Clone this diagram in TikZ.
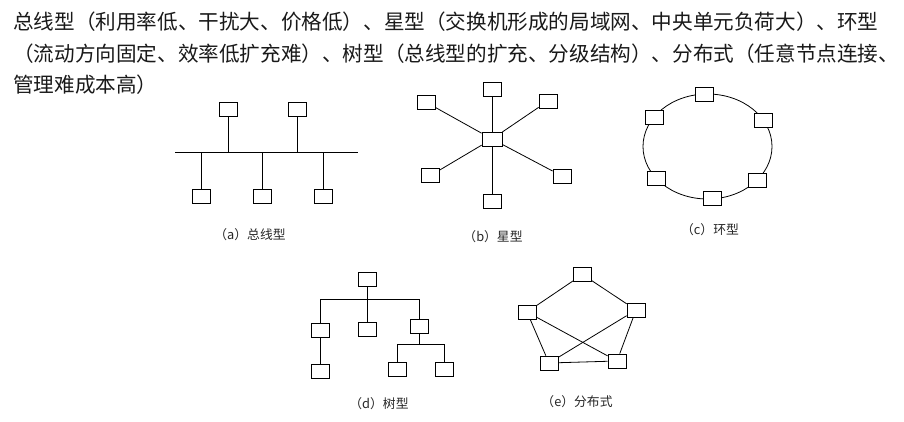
\documentclass[tikz,border=0pt]{standalone}
\usepackage{fontspec}
\setmainfont{Noto Sans CJK SC}
\newcommand{\bodyfont}{\fontsize{20.6}{31.5}\selectfont}
\newcommand{\capfont}{\fontsize{12.8}{15}\selectfont}
\tikzset{
  pc/.style={draw,fill=white,minimum width=18pt,minimum height=14pt,inner sep=0pt,line width=0.8pt},
  link/.style={line width=0.8pt},
  caption/.style={font=\capfont,black!85},
  txt/.style={font=\bodyfont,anchor=base west,inner sep=0pt,black!90}
}
\begin{document}
\begin{tikzpicture}[x=1pt,y=-1pt]
  \useasboundingbox (0,0) rectangle (904,422);
  \node[txt] (line1) at (13,30) {总线型（利用率低、干扰大、价格低）、星型（交换机形成的局域网、中央单元负荷大）、环型};
  \node[txt] (line2) at (13,61.5) {（流动方向固定、效率低扩充难）、树型（总线型的扩充、分级结构）、分布式（任意节点连接、};
  \node[txt] (line3) at (13,93) {管理难成本高）};
  % (a) bus
  \coordinate (busL) at (175,152); \coordinate (busR) at (358,152);
  \draw[link] (busL) -- (busR);
  \foreach \n/\x/\y in {a1/228/109,a2/297/109,a3/201/196,a4/262.5/196,a5/323/196}{
    \node[pc] (\n) at (\x,\y) {};
    \draw[link] (\n) -- (\n |- busL);
  }
  \node[caption] (capa) at (250,235) {（a）总线型};
  % (b) star
  \node[pc,minimum width=20pt] (b0) at (492,139) {};
  \foreach \n/\x/\y in {b1/492/89.5,b2/548/101,b3/562/176,b4/492/201,b5/430.5/175.5,b6/426.5/102.5}{
    \node[pc] (\n) at (\x,\y) {};
    \draw[link] (b0) -- (\n);
  }
  \node[caption] (capb) at (493,237) {（b）星型};
  % (c) ring
  \coordinate (ringc) at (707.5,146.5);
  \draw[link] (ringc) ellipse [x radius=64.5,y radius=52.5];
  \foreach \a [count=\i] in {-93,-30,40,86,143,214}
    \node[pc] (c\i) at ([shift={(\a:64.5 and 52.5)}]ringc) {};
  \node[caption] (capc) at (710,230) {（c）环型};
  % (d) tree
  \foreach \n/\x/\y in {d0/367/279.5,d1/320/330.5,d2/367/329,d3/419.5/326.5,d4/320/371,d5/397/369,d6/444.5/369}
    \node[pc] (\n) at (\x,\y) {};
  \coordinate (djoin) at (367,299); \coordinate (dsub) at (419.5,344);
  \draw[link] (d0) -- (djoin) -| (d1);
  \draw[link] (djoin) -| (d3);
  \draw[link] (djoin) -- (d2);
  \draw[link] (d1) -- (d4);
  \draw[link] (d3) -- (dsub) -| (d5);
  \draw[link] (dsub) -| (d6);
  \node[caption] (capd) at (379,404) {（d）树型};
  % (e) mesh
  \foreach \n/\x/\y in {e1/582.5/274.5,e2/636/310,e3/617/361,e4/549/363,e5/527/312}
    \node[pc] (\n) at (\x,\y) {};
  \foreach \s/\t in {e1/e2,e1/e5,e5/e4,e5/e3,e2/e4,e2/e3,e4/e3}
    \draw[link] (\s) -- (\t);
  \node[caption] (cape) at (577,402) {（e）分布式};
\end{tikzpicture}
\end{document}
